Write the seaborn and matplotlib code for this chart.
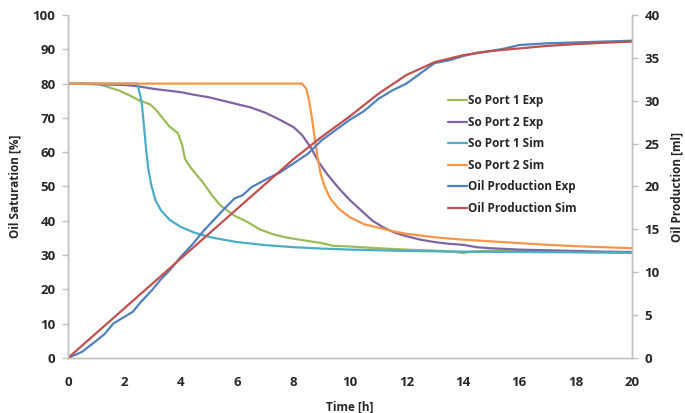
import numpy as np
import pandas as pd
import matplotlib
matplotlib.use("Agg")
import matplotlib.pyplot as plt
import seaborn as sns

# So Port 1 Exp [%]
t_p1_exp = [0, 1.0, 1.3, 1.8, 2.2, 2.55, 2.9, 3.1, 3.3, 3.6, 3.9, 4.05, 4.15, 4.35, 4.8,
            5.1, 5.4, 5.9, 6.4, 6.8, 7.3, 7.7, 8.2, 8.6, 9.0, 9.4, 10, 11, 12, 13, 13.7,
            14, 14.3, 15, 16, 17, 18, 19, 20]
so_p1_exp = [80, 80, 79.3, 78, 76.5, 75, 74, 72.5, 70.5, 67.5, 65.5, 62, 58, 55.5, 51,
             47.5, 44.5, 41.5, 39.5, 37.5, 36, 35.2, 34.5, 34, 33.5, 32.7, 32.5, 32, 31.6,
             31.3, 31, 30.6, 31, 31.3, 31.2, 31, 30.9, 30.8, 30.6]

# So Port 2 Exp [%]
t_p2_exp = [0, 2, 2.5, 3, 3.5, 4, 4.5, 5, 5.5, 6, 6.5, 7, 7.5, 8, 8.3, 8.6, 8.9, 9.2,
            9.6, 10, 10.4, 10.8, 11.2, 11.6, 12, 12.5, 13, 13.5, 14, 14.5, 15, 16, 17,
            18, 19, 20]
so_p2_exp = [80, 79.6, 79.2, 78.5, 78, 77.5, 76.7, 76, 75, 74, 73, 71.5, 69.5, 67.3, 65,
             61.5, 57, 53.5, 49.5, 46, 43, 40, 38, 36.5, 35.5, 34.5, 33.8, 33.3, 33, 32.3,
             32, 31.6, 31.4, 31.2, 31, 30.9]

# So Port 1 Sim [%]
t_p1_sim = [0, 2.45, 2.55, 2.62, 2.7, 2.78, 2.85, 2.95, 3.1, 3.3, 3.6, 4, 4.5, 5, 5.5,
            6, 7, 8, 9, 10, 12, 14, 16, 18, 20]
so_p1_sim = [80, 80, 77, 74, 67, 60, 55, 50.5, 46, 43, 40.3, 38.2, 36.5, 35.3, 34.5,
             33.8, 32.9, 32.3, 31.9, 31.6, 31.2, 31.0, 30.9, 30.8, 30.7]

# So Port 2 Sim [%]
t_p2_sim = [0, 8.3, 8.45, 8.55, 8.65, 8.75, 8.85, 8.95, 9.1, 9.3, 9.6, 10, 10.5, 11,
            11.5, 12, 13, 14, 15, 16, 17, 18, 19, 20]
so_p2_sim = [80, 80, 78.5, 75, 70, 64, 58.5, 54, 50, 46.5, 43.5, 41, 39, 38, 37, 36.2,
             35.2, 34.5, 34, 33.5, 33, 32.6, 32.3, 32]

# Oil Production Exp [ml]
t_oil_exp = [0, 0.5, 1, 1.3, 1.6, 2, 2.3, 2.55, 3, 3.3, 3.6, 4, 4.4, 4.8, 5.2, 5.6, 5.9,
             6.2, 6.5, 7, 7.5, 8, 8.5, 9, 9.5, 10, 10.5, 11, 11.5, 12, 12.5, 13, 13.5,
             14, 14.5, 15, 15.5, 16, 16.5, 17, 18, 19, 20]
oil_exp = [0, 0.72, 2.0, 2.8, 4.0, 4.8, 5.4, 6.4, 8.0, 9.2, 10.2, 11.8, 13.2, 14.8, 16.2,
           17.6, 18.6, 19.0, 19.9, 20.8, 21.6, 22.7, 23.8, 25.4, 26.6, 27.8, 28.8, 30.2,
           31.2, 32.0, 33.2, 34.4, 34.7, 35.2, 35.6, 35.8, 36.1, 36.5, 36.6, 36.7, 36.8,
           36.9, 37.0]

# Oil Production Sim [ml]
t_oil_sim = [0, 1, 2, 3, 4, 5, 6, 7, 8, 9, 10, 11, 12, 13, 14, 15, 16, 17, 18, 19, 20]
oil_sim = [0, 2.9, 5.8, 8.7, 11.6, 14.5, 17.4, 20.3, 23.2, 25.8, 28.2, 30.8, 33.0, 34.5,
           35.3, 35.8, 36.1, 36.4, 36.6, 36.76, 36.9]

sns.set_style("white")
plt.rcParams["font.family"] = ["Open Sans", "DejaVu Sans"]

fig = plt.figure(figsize=(6.85, 4.13), dpi=100)
ax = fig.add_axes([0.0993, 0.1332, 0.8233, 0.8305])
ax2 = ax.twinx()

lw = 1.6
sns.lineplot(x=t_p1_exp, y=so_p1_exp, ax=ax, color="#9BBB59", lw=lw, label="So Port 1 Exp")
sns.lineplot(x=t_p2_exp, y=so_p2_exp, ax=ax, color="#8064A2", lw=lw, label="So Port 2 Exp")
sns.lineplot(x=t_p1_sim, y=so_p1_sim, ax=ax, color="#4BACC6", lw=lw, label="So Port 1 Sim")
sns.lineplot(x=t_p2_sim, y=so_p2_sim, ax=ax, color="#F79646", lw=lw, label="So Port 2 Sim")
sns.lineplot(x=t_oil_exp, y=oil_exp, ax=ax2, color="#4F81BD", lw=lw, label="Oil Production Exp")
sns.lineplot(x=t_oil_sim, y=oil_sim, ax=ax2, color="#C0504D", lw=lw, label="Oil Production Sim")

ax.set_xlim(0, 20)
ax.set_ylim(0, 100)
ax2.set_ylim(0, 40)
ax.set_xticks(np.arange(0, 21, 2))
ax.set_yticks(np.arange(0, 101, 10))
ax2.set_yticks(np.arange(0, 41, 5))

grey = "#BFBFBF"
txt = "#262626"
for a in (ax, ax2):
    for s in a.spines.values():
        s.set_color(grey)
        s.set_linewidth(1.0)
    a.spines["top"].set_visible(False)
    a.tick_params(direction="out", length=4, width=1, color=grey, labelcolor=txt,
                  labelsize=9.5)
    for lab in a.get_xticklabels() + a.get_yticklabels():
        lab.set_fontweight("bold")
ax.tick_params(axis="x", pad=9)
ax.tick_params(axis="y", pad=5)
ax2.tick_params(axis="y", pad=5)

ax.set_xlabel("Time [h]", fontsize=8.5, fontweight="bold", color=txt, labelpad=8)
ax.set_ylabel("Oil Saturation [%]", fontsize=8.5, fontweight="bold", color=txt, labelpad=8)
ax2.set_ylabel("Oil Production [ml]", fontsize=8.5, fontweight="bold", color=txt, labelpad=8)

h1, l1 = ax.get_legend_handles_labels()
h2, l2 = ax2.get_legend_handles_labels()
ax.get_legend().remove()
ax2.get_legend().remove()
leg = ax2.legend(h1 + h2, l1 + l2, loc="upper left", bbox_to_anchor=(0.655, 0.80),
                 frameon=False, handlelength=1.6, handletextpad=0.1, labelspacing=0.72,
                 prop={"weight": "bold", "size": 8.5})
for t in leg.get_texts():
    t.set_color(txt)

fig.savefig("out.png", dpi=100)
